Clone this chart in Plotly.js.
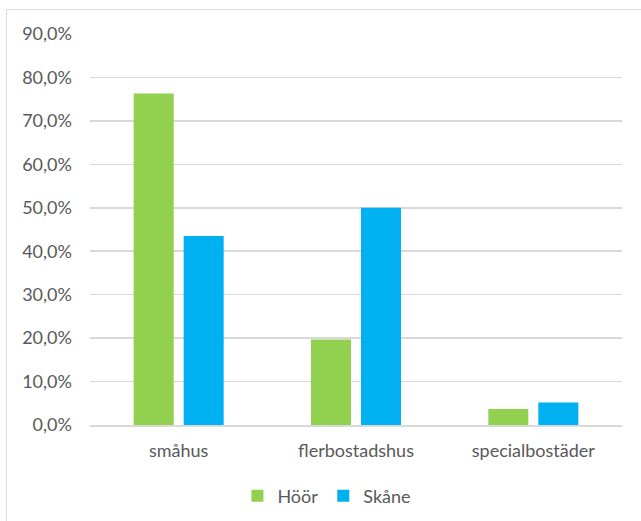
<!DOCTYPE html>
<html>
<head>
<meta charset="utf-8">
<script src="https://cdn.plot.ly/plotly-3.0.1.min.js"></script>
<style>
html,body{margin:0;padding:0;overflow:hidden;background:#fff;}
#frame{position:absolute;left:6px;top:9px;width:700px;height:600px;border:1px solid #d9d9d9;box-sizing:border-box;}
#chart{position:absolute;left:0;top:0;width:641px;height:521px;}
</style>
</head>
<body>
<div id="frame"></div>
<div id="chart"></div>
<script>
const categories = ["småhus", "flerbostadshus", "specialbostäder"];
const hoor = [0.763, 0.197, 0.037];
const skane = [0.435, 0.500, 0.052];
const seriesNames = ["Höör", "Skåne"];
const yTicks = [0, 0.1, 0.2, 0.3, 0.4, 0.5, 0.6, 0.7, 0.8, 0.9];

const traces = [
  {type: "bar", name: seriesNames[0], x: categories, y: hoor, marker: {color: "#92d050"}, hoverinfo: "none"},
  {type: "bar", name: seriesNames[1], x: categories, y: skane, marker: {color: "#00b0f0"}, hoverinfo: "none"}
];

const layout = {
  width: 641, height: 521,
  paper_bgcolor: "rgba(0,0,0,0)",
  plot_bgcolor: "rgba(0,0,0,0)",
  separators: ",.",
  margin: {l: 90, r: 19, t: 34, b: 96},
  font: {family: "Lato, 'Open Sans', sans-serif", size: 18, color: "#595959"},
  barmode: "group",
  bargap: 0.436,
  bargroupgap: 0.2,
  xaxis: {
    type: "category",
    showgrid: false,
    showline: true, linecolor: "#d9d9d9", linewidth: 1.5,
    ticks: "", ticklen: 0,
    ticklabelstandoff: 9,
    tickfont: {size: 18, color: "#595959"},
    automargin: false
  },
  yaxis: {
    range: [0, 0.9],
    tickvals: yTicks,
    tickformat: ".1%",
    showgrid: true, gridcolor: "#d9d9d9", gridwidth: 1.5,
    zeroline: false,
    showline: false,
    ticks: "", ticklen: 0,
    ticklabelstandoff: 17,
    tickfont: {size: 18, color: "#595959"},
    automargin: false
  },
  showlegend: true,
  legend: {
    orientation: "h",
    xref: "container", yref: "container",
    x: 0.51, xanchor: "center",
    y: 0.048, yanchor: "middle",
    font: {size: 18, color: "#595959"},
    itemwidth: 30,
    traceorder: "normal"
  }
};

Plotly.newPlot("chart", traces, layout, {staticPlot: true, displayModeBar: false});
</script>
</body>
</html>
